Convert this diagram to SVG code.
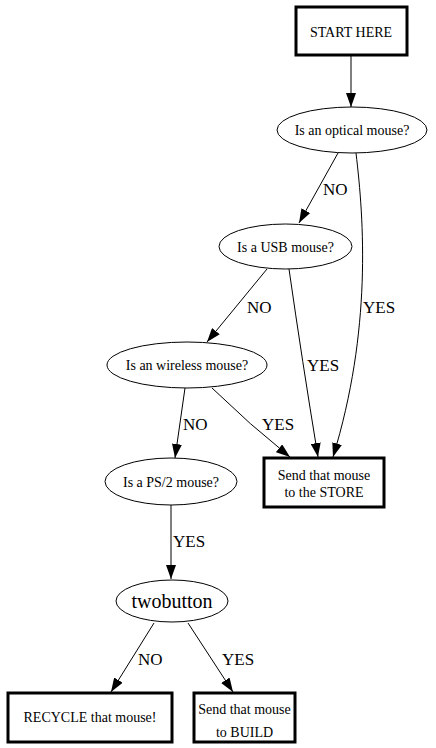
<svg xmlns="http://www.w3.org/2000/svg" width="436" height="748" viewBox="0 0 436 748" font-family="'Liberation Serif', 'DejaVu Serif', serif">
<style>
.box{fill:#fff;stroke:#000;stroke-width:3}
.ell{fill:#fff;stroke:#000;stroke-width:1}
text{font-family:'Liberation Serif','DejaVu Serif',serif}
.t{font-size:14px;fill:#000;text-anchor:middle}
.big{font-size:20px}
.lbl{font-size:17px;fill:#000}
.e{fill:none;stroke:#000;stroke-width:1;marker-end:url(#ah)}
</style>
<defs>
<marker id="ah" markerUnits="userSpaceOnUse" markerWidth="14" markerHeight="10" refX="14" refY="5" orient="auto" viewBox="0 0 14 10">
<path d="M0,0 L14,5 L0,10 z" fill="#000"/>
</marker>
</defs>
<rect width="436" height="748" fill="#fff"/>
<g id="edges">
<path class="e" d="M351,56 L351,107"/>
<path class="e" d="M338,153 L299,223"/>
<path class="e" d="M356,153 C364,220 372,330 333,457"/>
<path class="e" d="M267,269 L207,342"/>
<path class="e" d="M289,269 Q302,360 318,457"/>
<path class="e" d="M212,388 Q250,425 290,457"/>
<path class="e" d="M185,388 L175,458"/>
<path class="e" d="M171,505 L171,579"/>
<path class="e" d="M154,623 L111,692"/>
<path class="e" d="M188,623 L233,692"/>
</g>
<g id="labels">
<text class="lbl" x="323" y="195">NO</text>
<text class="lbl" x="363" y="313">YES</text>
<text class="lbl" x="247" y="313">NO</text>
<text class="lbl" x="307" y="371">YES</text>
<text class="lbl" x="262" y="430">YES</text>
<text class="lbl" x="183" y="430">NO</text>
<text class="lbl" x="173" y="547">YES</text>
<text class="lbl" x="138" y="665">NO</text>
<text class="lbl" x="222" y="665">YES</text>
</g>
<g id="start"><rect class="box" x="296" y="7" width="111" height="48"/><text class="t" x="351" y="37">START HERE</text></g>
<g id="optical"><ellipse class="ell" cx="352" cy="130" rx="75" ry="23"/><text class="t" x="352" y="135">Is an optical mouse?</text></g>
<g id="usb"><ellipse class="ell" cx="285.5" cy="246.5" rx="66.5" ry="22.5"/><text class="t" x="285.5" y="251.5">Is a USB mouse?</text></g>
<g id="wireless"><ellipse class="ell" cx="187" cy="365" rx="80" ry="23"/><text class="t" x="187" y="370">Is an wireless mouse?</text></g>
<g id="store"><rect class="box" x="264" y="458" width="120" height="49"/><text class="t" x="324" y="480">Send that mouse</text><text class="t" x="324" y="497">to the STORE</text></g>
<g id="ps2"><ellipse class="ell" cx="171" cy="481.5" rx="66" ry="23.5"/><text class="t" x="171" y="486.5">Is a PS/2 mouse?</text></g>
<g id="twobutton"><ellipse class="ell" cx="172" cy="601" rx="56" ry="21"/><text class="t big" x="172" y="608">twobutton</text></g>
<g id="recycle"><rect class="box" x="8" y="693" width="164" height="49"/><text class="t" x="90" y="722">RECYCLE that mouse!</text></g>
<g id="build"><rect class="box" x="194" y="693" width="101" height="49"/><text class="t" x="244.5" y="714">Send that mouse</text><text class="t" x="244.5" y="737">to BUILD</text></g>
</svg>
